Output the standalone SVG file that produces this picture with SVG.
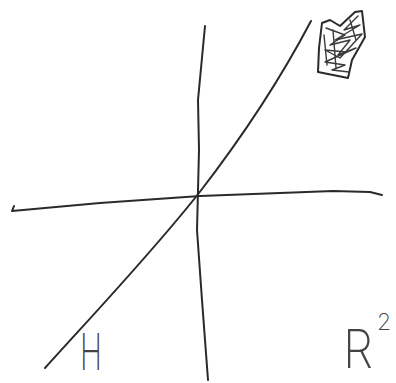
<svg xmlns="http://www.w3.org/2000/svg" width="396" height="383" viewBox="0 0 396 383">
<style>
.pen{fill:none;stroke:#2a2a2a;stroke-width:2;stroke-linecap:round;stroke-linejoin:round}
.thin{fill:none;stroke:#3a3a3a;stroke-width:1.4;stroke-linecap:round;stroke-linejoin:round}
.lbl{font-family:Inter,"Liberation Sans",sans-serif;font-weight:200;fill:#444}
</style>
<rect width="396" height="383" fill="#fff"/>
<g id="axes">
<path id="x-axis" class="pen" d="M14,206 L12,211 L100,203 L200,196 L280,193 L333,191 L370,192 L382,195"/>
<path id="y-axis" class="pen" d="M205,26 L198,100 L199,150 L197,230 L202,300 L205,340 L208,380"/>
<path id="diagonal" class="pen" d="M45,368 C90,318 150,255 199,193 C240,140 280,80 311,21"/>
</g>
<g id="scribble">
<path class="pen" d="M322,23 L319,48 L318,72 L348,78 L352,60 L365,37 L362,11 L355,12 L340,26 L330,20 L322,23"/>
<path class="thin" d="M326,28 L345,35 L330,45 L350,40 L338,55 L356,48 L325,62 L345,65 L332,70 L349,72"/>
<path class="thin" d="M358,16 L344,30 L360,25 L335,40 L362,34 L340,58 L325,50 L346,52"/>
<path class="thin" d="M324,35 L327,65 M333,30 L336,68 M350,20 L356,40"/>
</g>
<g id="label-H">
<text class="lbl" x="80" y="370" font-size="50" textLength="22" lengthAdjust="spacingAndGlyphs">H</text>
</g>
<g id="label-R2">
<text class="lbl" x="343" y="368" font-size="54"><tspan textLength="30" lengthAdjust="spacingAndGlyphs">R</tspan><tspan x="377" y="330" font-size="23">2</tspan></text>
</g>
</svg>
